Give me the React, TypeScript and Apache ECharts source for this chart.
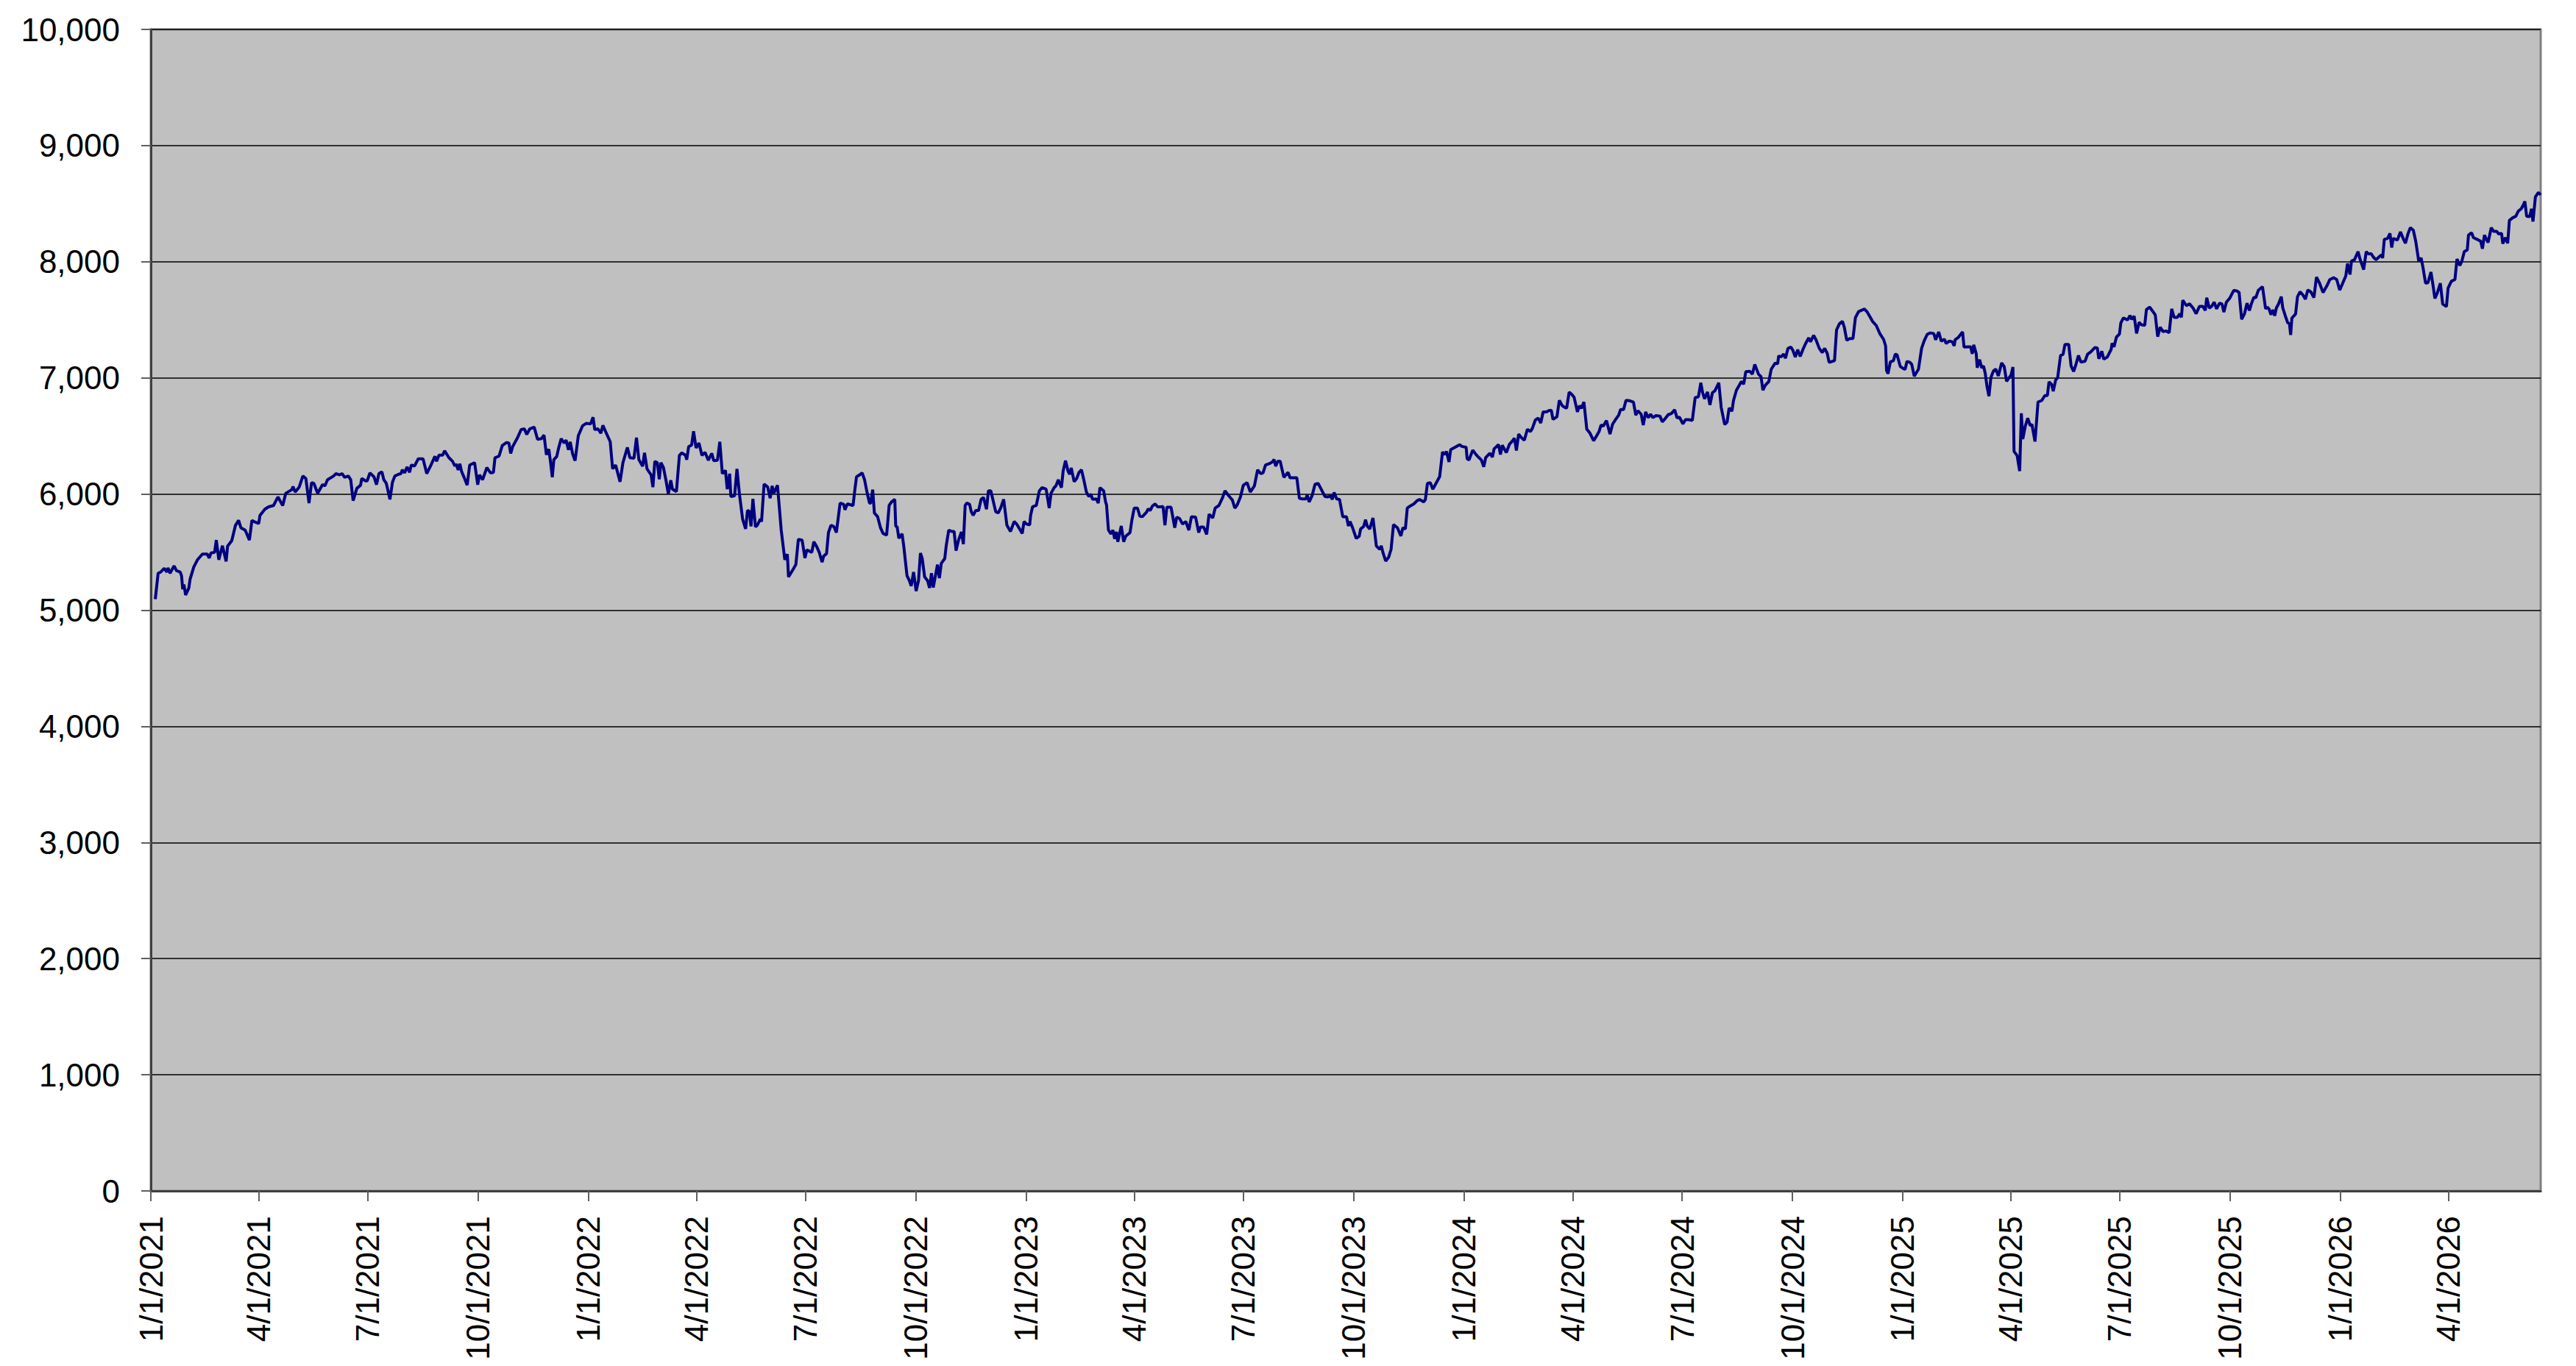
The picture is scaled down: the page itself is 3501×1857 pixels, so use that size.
import React, { useEffect, useRef } from "react";
import * as echarts from "echarts";

// x = days since 1/1/2021, y = index value
const START_UTC = Date.UTC(2021, 0, 1);
const X_MAX_DAYS = 1993;
const Y_TICKS_MAX = 10000;
const Y_INTERVAL = 1000;
const TICK_YEARS = [2021, 2022, 2023, 2024, 2025, 2026];
const TICK_MONTHS = [0, 3, 6, 9];

const seg2021a: [number, number][] = [
  [3.7, 5095], [6.1, 5318], [8.2, 5328], [11.2, 5360], [13.3, 5328], [14.3, 5364], [16, 5318], [19.4, 5381], [21.5, 5339], [24.5, 5328],
  [25.6, 5297], [26.6, 5180], [27.6, 5222], [29, 5131], [31.7, 5191], [32.7, 5265], [35.8, 5371], [38.9, 5434], [43, 5483], [47, 5483],
  [48.7, 5449], [50.1, 5492], [53.2, 5498], [54.6, 5604], [56.7, 5434], [59.7, 5555], [62.8, 5420], [64, 5551], [67.5, 5598], [70.6, 5731],
  [73.2, 5773], [75.1, 5710], [78.7, 5689], [82.2, 5604], [84.3, 5773], [86.9, 5759], [90, 5746], [91, 5816], [95.1, 5869], [98.2, 5890],
  [102.3, 5901], [106, 5975], [108.8, 5922], [110, 5901], [112.5, 6006], [117.6, 6038], [118.6, 6064], [120.3, 6017], [123.7, 6059], [126.8, 6155],
  [129.3, 6134], [131.9, 5922], [134, 6098], [136, 6091], [139.1, 6006], [143.2, 6081], [145.2, 6070], [147.3, 6123], [152.4, 6155], [154.4, 6176],
  [157.5, 6165], [159.5, 6176], [161.6, 6144], [164.7, 6155], [166.7, 6123], [168.7, 5943], [171.8, 6049], [174.9, 6076], [175.9, 6134], [179, 6113],
  [180.4, 6113], [182.7, 6182], [186.1, 6148], [188.2, 6081], [190.2, 6176], [192.7, 6191], [194.3, 6123], [196.4, 6091], [199.4, 5954], [201.5, 6102],
  [203.5, 6155], [206.6, 6170], [208.6, 6176], [209.7, 6208], [211.7, 6182], [213.7, 6233], [215.8, 6187], [217.2, 6250], [219.9, 6240], [223, 6303],
  [227, 6303], [230.1, 6176], [233.2, 6240], [236.9, 6324], [238.3, 6282], [240.3, 6335], [243.4, 6335], [245, 6373], [248.5, 6314], [251.6, 6282],
  [253.6, 6240],
];

const seg2021b: [number, number][] = [
  [254.6, 6260], [256.3, 6207], [257.7, 6260], [259.1, 6196], [261.2, 6144], [263.8, 6076], [265.9, 6249], [270, 6270], [271.4, 6169], [272.6, 6080],
  [274.1, 6165], [276.7, 6123], [280.2, 6228], [283.3, 6182], [285.7, 6186], [287, 6312], [290.4, 6327], [293.1, 6418], [296.6, 6443], [298.6, 6439],
  [300.1, 6350], [301.7, 6407], [305.8, 6485], [308.8, 6555], [311.5, 6561], [313.5, 6513], [316, 6561], [319.7, 6576], [322.5, 6471], [325.8, 6477],
  [327.9, 6507], [329.9, 6338], [331.9, 6386], [333.4, 6270], [334.8, 6144], [336.1, 6296], [338.5, 6323], [340.1, 6397], [342.2, 6477], [344.6, 6439],
  [346.3, 6464], [348.3, 6380], [349.7, 6450], [351.8, 6344], [353.8, 6287], [356.5, 6502], [360, 6587], [363, 6608], [366.7, 6604], [368.8, 6661],
  [370.2, 6555], [372.9, 6561], [375.3, 6523], [377, 6591], [379.4, 6534], [383.1, 6450], [385.1, 6217], [387.6, 6249], [391.3, 6106], [393.7, 6270],
  [397.4, 6401], [399.5, 6312], [402.9, 6308], [405, 6485], [407, 6296], [410.1, 6239], [411.7, 6355], [413.8, 6217], [417.2, 6165], [418.7, 6059],
  [420.3, 6281], [422.4, 6270], [424, 6127], [425.4, 6270], [427.5, 6228], [429.5, 6123], [431.6, 6000], [433.6, 6118], [435, 6042], [438.3, 6021],
  [440.8, 6333], [442.8, 6355], [445.9, 6333], [446.9, 6296], [448.5, 6407], [451, 6422], [452.6, 6540], [454.7, 6397], [457.1, 6439], [459.6, 6333],
  [462.2, 6359], [464.9, 6291], [467.8, 6350], [469.4, 6287], [472.5, 6291], [474.5, 6450], [476.6, 6175], [479.2, 6203], [480.7, 6042], [482.7, 6175],
  [483.7, 5979], [486.8, 5985], [488.8, 6217], [490.9, 5996], [493.5, 5785], [496, 5700], [497.6, 5859], [499.1, 5852], [500.5, 5722], [502.1, 5958],
  [504.2, 5717], [505.8, 5732],
];

const seg2022: [number, number][] = [
  [508.3, 5784], [509.3, 5763], [511.4, 6085], [514.4, 6060], [516.5, 5964], [518.1, 6070], [519.5, 6006], [522.6, 6076], [525.7, 5689], [528.7, 5434],
  [530.8, 5483], [531.8, 5286], [534.9, 5339], [537.9, 5392], [540, 5610], [543.1, 5604], [545.5, 5449], [547.1, 5519], [551.2, 5498], [552.9, 5589],
  [555.3, 5547], [557.4, 5498], [559.8, 5413], [561.1, 5466], [563.5, 5487], [565.1, 5668], [567.2, 5731], [569.6, 5720], [571.7, 5668], [574.8, 5922],
  [577.8, 5911], [578.9, 5865], [580.9, 5915], [585.6, 5901], [587, 6028], [588.5, 6148], [591.1, 6165], [593.2, 6182], [595.2, 6123], [597.3, 6013],
  [599.3, 5922], [600.3, 5922], [602, 6038], [603.4, 5837], [606.1, 5805], [608.5, 5710], [610.6, 5661], [613.6, 5646], [615.7, 5901], [617.7, 5932],
  [620.4, 5954], [621.2, 5725], [622.4, 5716], [623.8, 5619], [626.5, 5657], [627.9, 5551], [630.6, 5297], [632.6, 5254], [634.1, 5208], [636.1, 5328],
  [638.2, 5165], [640.2, 5254], [641.8, 5492], [643.3, 5445], [645.3, 5286], [647.8, 5254], [649.4, 5191], [651, 5318], [652.5, 5195], [656, 5392],
  [657.6, 5275], [659.2, 5403], [662.1, 5445], [663.3, 5555], [665.4, 5689], [667.8, 5678], [669.9, 5678], [671.5, 5513], [673.6, 5604], [676, 5674],
  [677.6, 5568], [679.1, 5901], [680.5, 5922], [682.8, 5911], [684.2, 5848], [685.8, 5816], [687.9, 5858], [690.3, 5858], [692.4, 5954], [694.4, 5970],
  [696.9, 5869], [698.5, 6028], [700.5, 6028], [704.6, 5848], [706.7, 5837], [708.7, 5879], [711.2, 5954], [713.9, 5731], [716.9, 5678], [720, 5763],
  [722, 5742], [726.7, 5661], [728.2, 5763], [730.2, 5742], [732.9, 5735], [733.7, 5816], [735.3, 5890], [738.4, 5901], [741, 6028], [743.1, 6055],
  [746.6, 6042], [749.2, 5879], [750.7, 6006], [753.3, 6055], [754.8, 6070], [756.8, 6123],
];

const seg2023: [number, number][] = [
  [757.3, 6106], [759.4, 6055], [760.8, 6197], [762.8, 6288], [764.9, 6197], [766.3, 6170], [767.6, 6225], [770, 6106], [772.1, 6134], [774.1, 6187],
  [776.1, 6208], [777.8, 6134], [780.2, 6017], [782.3, 5979], [783.9, 5999], [785.4, 5954], [788.4, 5958], [790.1, 5922], [791.5, 6055], [794.6, 6028],
  [796.2, 5932], [797, 5907], [798.6, 5689], [800.7, 5657], [802.3, 5689], [803.8, 5614], [805.2, 5674], [806.4, 5589], [809.3, 5725], [811.3, 5589],
  [813, 5636], [816.6, 5668], [818.1, 5773], [820.1, 5879], [822.8, 5879], [824.8, 5809], [826.9, 5805], [830.3, 5843], [831.8, 5873], [833.4, 5858],
  [835.1, 5894], [837.5, 5915], [839.6, 5890], [842.6, 5890], [844.1, 5894], [845.7, 5731], [847.3, 5886], [850.8, 5886], [853.9, 5710], [855.5, 5801],
  [858, 5788], [860.4, 5742], [863.1, 5763], [865.7, 5689], [867.8, 5805], [871.3, 5801], [873.9, 5668], [875.3, 5716], [878, 5716], [880.5, 5653],
  [882.5, 5826], [885.6, 5795], [887.6, 5879], [890.7, 5901], [893.8, 5970], [895.8, 6028], [898.9, 5985], [901.9, 5949], [904, 5879], [906, 5907],
  [908.7, 5975], [911.1, 6076], [914.2, 6098], [916.9, 6017], [920.3, 6070], [923, 6208], [925.5, 6176], [927.5, 6182], [929.6, 6250], [932.6, 6261],
  [935.3, 6276], [936.7, 6297], [938.1, 6240], [939.8, 6282], [941.8, 6282], [944.9, 6144], [948.4, 6187], [950, 6140], [953.1, 6140], [955.7, 6140],
  [957.8, 5964], [960.2, 5958], [963.3, 5958], [964.3, 5992], [966, 5932], [968.4, 5985], [970.9, 6085], [973.5, 6091], [976.2, 6038], [979.1, 5979],
  [981.7, 5975], [983.8, 5985], [985.2, 5954], [986.8, 6013], [988.9, 5958], [991.3, 5954], [994, 5805], [997.1, 5805], [998.7, 5725], [1000.1, 5763],
  [1002.2, 5710], [1005.2, 5619], [1007.7, 5636], [1008.9, 5699],
];

const seg2024a: [number, number][] = [
  [1011.4, 5720], [1013, 5779], [1014.4, 5724], [1016.5, 5699], [1019.2, 5794], [1022, 5554], [1024.7, 5524], [1026.1, 5554], [1027.7, 5490], [1029.8, 5423],
  [1032.2, 5454], [1034.3, 5524], [1036.3, 5737], [1039.6, 5709], [1042.5, 5639], [1044.1, 5709], [1046.2, 5699], [1047.8, 5879], [1050.7, 5900], [1053.3, 5915],
  [1056, 5943], [1058, 5953], [1061.5, 5932], [1062.9, 5953], [1064.6, 6091], [1067, 6098], [1069.1, 6042], [1071.7, 6091], [1074.8, 6149], [1077.2, 6361],
  [1079.3, 6340], [1080.5, 6367], [1082.6, 6276], [1084, 6382], [1087.1, 6399], [1091.6, 6425], [1093.2, 6410], [1096.9, 6403], [1097.7, 6304], [1099.3, 6293],
  [1102.4, 6378], [1105.1, 6340], [1107.5, 6314], [1109.6, 6293], [1111.6, 6234], [1113.2, 6314], [1116.7, 6352], [1118.8, 6318], [1120.2, 6389], [1123.9, 6425],
  [1125.5, 6340], [1127, 6420], [1130.4, 6357], [1133.1, 6431], [1135.1, 6452], [1137.2, 6480], [1138.8, 6374], [1140.7, 6516], [1142.7, 6488], [1145.4, 6463],
  [1148, 6558], [1150.5, 6537], [1152.1, 6565], [1154.6, 6637], [1157, 6654], [1159.1, 6611], [1161.1, 6707], [1163.8, 6707], [1165.8, 6718], [1167.9, 6722],
  [1169.3, 6643], [1172.6, 6665], [1174.6, 6807], [1177.1, 6760], [1178.7, 6749], [1180.7, 6739], [1182.8, 6877], [1185.2, 6856], [1186.9, 6834], [1188.3, 6771],
  [1189.7, 6707], [1191.4, 6760], [1193, 6739], [1195.1, 6792], [1196.5, 6658], [1197.5, 6558], [1200, 6527], [1203.2, 6459], [1205.7, 6501], [1207.7, 6537],
  [1209.4, 6594], [1211.4, 6586], [1213.9, 6633], [1216.9, 6516], [1219, 6601], [1221.6, 6643], [1224.1, 6679], [1225.7, 6728], [1228.2, 6728], [1230.2, 6807],
  [1233.3, 6803], [1236.4, 6792], [1238.4, 6679], [1240.1, 6718], [1242.9, 6686], [1244.6, 6594], [1246.6, 6707], [1248.7, 6658], [1250.7, 6686], [1252.7, 6658],
  [1255.2, 6675], [1258.5, 6671], [1260.5, 6622],
];

const seg2024b: [number, number][] = [
  [1263, 6651], [1265.4, 6683], [1268.1, 6693], [1270.8, 6725], [1272.8, 6655], [1274.8, 6661], [1277.7, 6604], [1279.8, 6640], [1282.4, 6640], [1285.5, 6634],
  [1287.9, 6831], [1290.6, 6837], [1292.6, 6958], [1294.1, 6873], [1295.7, 6820], [1298.2, 6879], [1300.2, 6767], [1302.3, 6873], [1304.3, 6888], [1307.6, 6958],
  [1309.6, 6746], [1312.5, 6598], [1314.5, 6619], [1316.2, 6740], [1318.6, 6714], [1319.8, 6803], [1322.3, 6894], [1324.3, 6930], [1326.4, 6968], [1328.4, 6947],
  [1330.1, 7053], [1333.5, 7057], [1335.6, 7032], [1337.6, 7116], [1340.7, 7032], [1342.8, 7011], [1344.4, 6894], [1346.4, 6937], [1349.3, 6968], [1351.3, 7074],
  [1354.6, 7127], [1356.7, 7121], [1357.5, 7190], [1359.5, 7180], [1361.6, 7205], [1363.2, 7169], [1365.3, 7254], [1367.7, 7265], [1369.3, 7239], [1371.4, 7180],
  [1373.4, 7243], [1375.5, 7184], [1377.9, 7248], [1380, 7296], [1382.6, 7345], [1384.1, 7311], [1386.7, 7366], [1388.8, 7324], [1391.4, 7254], [1393.9, 7218],
  [1395.9, 7254], [1398, 7212], [1399.6, 7133], [1402.1, 7142], [1404.1, 7148], [1405.8, 7413], [1408.2, 7466], [1410.7, 7487], [1412.3, 7434], [1414.3, 7324],
  [1416.8, 7339], [1419.5, 7339], [1421.5, 7518], [1424.2, 7571], [1426.6, 7582], [1429.1, 7592], [1431.1, 7571], [1433.8, 7523], [1435.8, 7487], [1438.9, 7451],
  [1441.9, 7381], [1445, 7332], [1446.7, 7275], [1447.5, 7063], [1448.7, 7036], [1450.7, 7138], [1453.2, 7148], [1454.8, 7205], [1456.3, 7197], [1458.9, 7099],
  [1461.8, 7078], [1463, 7074], [1464.5, 7142], [1467.1, 7133], [1468.5, 7116], [1470.6, 7015], [1474.1, 7074], [1476.7, 7254], [1478.8, 7317], [1481.4, 7375],
  [1483.9, 7387], [1486.9, 7381], [1488.4, 7328], [1491, 7396], [1493.1, 7317], [1495.8, 7332], [1497.2, 7296], [1499.8, 7317], [1502.3, 7311], [1503.9, 7275],
  [1504.7, 7328], [1507.4, 7349], [1510.9, 7396], [1512.1, 7265],
];

const seg2025: [number, number][] = [
  [1515.5, 7267], [1517.6, 7267], [1519, 7207], [1520.2, 7284], [1522.3, 7207], [1523.1, 7087], [1525.1, 7157], [1526.8, 7087], [1528.4, 7102], [1529.8, 7038],
  [1531.3, 6924], [1532.9, 6843], [1534.5, 7002], [1536.6, 7059], [1538.6, 7076], [1540.7, 7017], [1543.5, 7129], [1545.6, 7097], [1547.6, 6970], [1549.7, 7002],
  [1551.3, 7023], [1552.9, 7093], [1553.8, 6367], [1556.4, 6331], [1558.5, 6198], [1559.9, 6695], [1561.1, 6473], [1563.2, 6585], [1565.2, 6653], [1567.3, 6589],
  [1568.7, 6600], [1571.3, 6452], [1573.8, 6791], [1576.9, 6805], [1579.5, 6848], [1581.6, 6848], [1583, 6966], [1585.1, 6945], [1586.5, 6886], [1588.5, 6981],
  [1590.2, 7002], [1592.6, 7193], [1594.7, 7203], [1596.3, 7288], [1599.4, 7288], [1601.4, 7102], [1603.5, 7055], [1605.5, 7118], [1607.5, 7193], [1609.6, 7135],
  [1613.1, 7144], [1615.1, 7203], [1617.8, 7224], [1621.3, 7262], [1623.3, 7256], [1624.5, 7165], [1627, 7229], [1628.6, 7161], [1631.5, 7178], [1634.8, 7245],
  [1635.6, 7298], [1637.2, 7267], [1639.2, 7351], [1641.7, 7377], [1642.9, 7474], [1645, 7516], [1648.5, 7499], [1650.5, 7537], [1651.9, 7504], [1654, 7531],
  [1656, 7383], [1658.1, 7478], [1660.1, 7457], [1662.8, 7453], [1664.2, 7588], [1666.9, 7609], [1669.5, 7573], [1671.6, 7542], [1673.6, 7355], [1675.7, 7436],
  [1678.1, 7398], [1680.6, 7404], [1683.2, 7389], [1685.3, 7594], [1687.3, 7521], [1690, 7521], [1692, 7552], [1693.4, 7521], [1694.5, 7669], [1697.5, 7622],
  [1700.2, 7637], [1703.1, 7601], [1705.7, 7552], [1708.4, 7616], [1711.3, 7616], [1713.3, 7580], [1714.5, 7690], [1716.6, 7601], [1718.6, 7616], [1720.7, 7652],
  [1722.7, 7594], [1725.2, 7643], [1727.2, 7637], [1728.8, 7567], [1730.9, 7652], [1733.7, 7686], [1737, 7753], [1739.5, 7749], [1741.5, 7736], [1743.6, 7504],
  [1746, 7552], [1748.1, 7643], [1750.1, 7580], [1751.7, 7637], [1753.8, 7694], [1755.4, 7690], [1757.5, 7753], [1761, 7785], [1763.6, 7595],
];

const seg2026: [number, number][] = [
  [1765.1, 7608], [1766.5, 7593], [1768.1, 7544], [1769.8, 7586], [1771.2, 7535], [1772.6, 7603], [1774.3, 7635], [1776.7, 7699], [1777.9, 7603], [1780, 7535],
  [1782, 7476], [1783.5, 7466], [1784.5, 7370], [1785.5, 7514], [1788.6, 7550], [1790.2, 7699], [1792.3, 7741], [1794.7, 7714], [1796.8, 7678], [1798.8, 7756],
  [1801.3, 7741], [1803.9, 7692], [1806, 7868], [1808.6, 7815], [1811.5, 7735], [1814.8, 7794], [1817.2, 7847], [1820.3, 7862], [1822.9, 7847], [1825.4, 7756],
  [1827.9, 7815], [1830.5, 7879], [1831.9, 7985], [1834, 7890], [1835.2, 8006], [1837.7, 8017], [1840.7, 8087], [1842.2, 8028], [1845.4, 7932], [1847.5, 8087],
  [1849.5, 8066], [1851.6, 8070], [1853.6, 8038], [1855.7, 8017], [1858.5, 8045], [1860.2, 8059], [1861.2, 8032], [1862.6, 8193], [1865.3, 8201], [1867.3, 8244],
  [1868.8, 8123], [1870, 8201], [1873.5, 8187], [1876.1, 8257], [1878.6, 8193], [1880.2, 8159], [1882.3, 8240], [1884.3, 8293], [1886.8, 8271], [1888.8, 8176],
  [1891.3, 8006], [1893.3, 8032], [1894.9, 7947], [1897, 7815], [1899, 7820], [1901.5, 7911], [1903.1, 7805], [1904.8, 7684], [1906.8, 7731], [1909.3, 7815],
  [1911.3, 7635], [1914.4, 7614], [1915.8, 7773], [1918.5, 7832], [1921.5, 7847], [1923.2, 8023], [1925.6, 7968], [1927.3, 8006], [1929.3, 8087], [1931.8, 8102],
  [1932.8, 8229], [1935.4, 8250], [1936.9, 8208], [1939.9, 8193], [1943, 8176], [1944.4, 8112], [1946.1, 8229], [1949.1, 8165], [1951.8, 8293], [1953.8, 8261],
  [1956.3, 8261], [1957.9, 8240], [1960.4, 8244], [1961.4, 8155], [1963.5, 8208], [1965.5, 8159], [1966.9, 8356], [1969.6, 8378], [1972.3, 8392], [1974.3, 8435],
  [1976.8, 8456], [1978.8, 8494], [1979.8, 8520], [1981.3, 8392], [1983.9, 8388], [1985.3, 8456], [1986.6, 8346], [1988.6, 8558], [1991.1, 8596], [1993, 8575],
];

const allPoints = [
  ...seg2021a, ...seg2021b, ...seg2022, ...seg2023,
  ...seg2024a, ...seg2024b, ...seg2025, ...seg2026,
];

const DAY_MS = 86400000;

const quarterDays: number[] = [];
TICK_YEARS.forEach((y) =>
  TICK_MONTHS.forEach((m) => {
    const d = (Date.UTC(y, m, 1) - START_UTC) / DAY_MS;
    if (d <= X_MAX_DAYS) quarterDays.push(d);
  })
);

const fmtDate = (v: number) => {
  const dt = new Date(START_UTC + Math.round(v) * DAY_MS);
  return `${dt.getUTCMonth() + 1}/${dt.getUTCDate()}/${dt.getUTCFullYear()}`;
};

const FONT = "'Liberation Sans', Arial, sans-serif";

export default function App() {
  const ref = useRef<HTMLDivElement>(null);

  useEffect(() => {
    if (!ref.current) return;
    const chart = echarts.init(ref.current, null, { renderer: "svg" });
    chart.setOption({
      animation: false,
      backgroundColor: "#ffffff",
      grid: {
        left: 205,
        right: 48,
        top: 40,
        bottom: 238,
        show: true,
        backgroundColor: "#c0c0c0",
        borderColor: "#808080",
        borderWidth: 3,
      },
      xAxis: {
        type: "value",
        min: 0,
        max: X_MAX_DAYS,
        axisLine: { show: true, onZero: false, lineStyle: { color: "#404040", width: 3 } },
        axisTick: {
          show: true,
          customValues: quarterDays,
          length: 14,
          lineStyle: { color: "#606060", width: 2 },
        },
        axisLabel: {
          customValues: quarterDays,
          rotate: 90,
          margin: 34,
          fontSize: 44,
          fontFamily: FONT,
          color: "#000000",
          formatter: (v: number) => fmtDate(v),
        },
        splitLine: { show: false },
      },
      yAxis: {
        type: "value",
        min: 0,
        max: Y_TICKS_MAX,
        interval: Y_INTERVAL,
        axisLine: { show: true, lineStyle: { color: "#404040", width: 3 } },
        axisTick: { show: true, length: 13, lineStyle: { color: "#606060", width: 2 } },
        axisLabel: {
          margin: 42,
          fontSize: 44,
          fontFamily: FONT,
          color: "#000000",
          formatter: (v: number) => v.toLocaleString("en-US"),
        },
        splitLine: { show: true, lineStyle: { color: "#000000", width: 1.5 } },
      },
      series: [
        {
          type: "line",
          data: allPoints,
          showSymbol: false,
          symbol: "none",
          lineStyle: { color: "#000080", width: 4 },
          silent: true,
        },
      ],
    });
    return () => chart.dispose();
  }, []);

  return (
    <div
      ref={ref}
      style={{ position: "fixed", left: 0, top: 0, width: 3501, height: 1857, background: "#fff" }}
    />
  );
}
